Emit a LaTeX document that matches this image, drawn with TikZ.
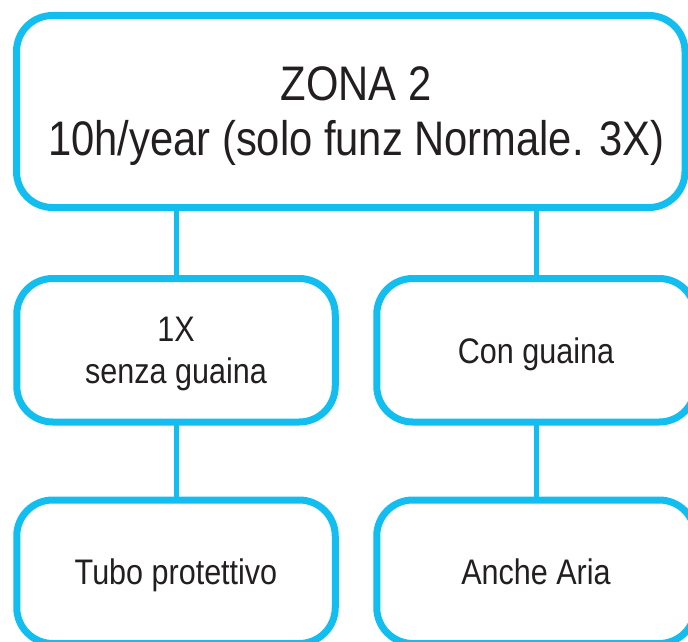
\documentclass[tikz,border=0pt]{standalone}
\usepackage{fontspec}
\setmainfont{Liberation Sans}[FakeStretch=0.86]
\definecolor{cy}{HTML}{12BEF0}
\definecolor{tx}{HTML}{231F20}
\begin{document}
\begin{tikzpicture}[x=1pt,y=-1pt,
  box/.style={draw=cy, line width=7pt, rounded corners=36pt, fill=white,
    inner sep=0pt, outer sep=0pt, text=tx, align=center, text depth=0pt,
    minimum width=318.5pt, minimum height=143.5pt,
    font=\fontsize{35.5}{42}\selectfont},
  link/.style={draw=cy, line width=5pt}]
\clip (0,0) rectangle (688,642);
\fill[white] (0,0) rectangle (688,642);
\node[box, minimum width=668.5pt, minimum height=192pt,
  font=\fontsize{48.5}{55}\selectfont] (top) at (350.75,111.5)
  {\hspace*{11pt}ZONA 2\\\hspace*{11pt}10h/year (solo funz Normale. 3X)};
\node[box] (ml) at (176,350.25) {1X\\senza guaina};
\node[box] (mr) at (536,350.25) {Con guaina};
\node[box] (bl) at (176,571.75) {Tubo protettivo};
\node[box] (br) at (536,571.75) {Anche Aria};
\draw[link] (top.south -| ml.north) -- (ml.north);
\draw[link] (top.south -| mr.north) -- (mr.north);
\draw[link] (ml.south) -- (bl.north);
\draw[link] (mr.south) -- (br.north);
\end{tikzpicture}
\end{document}
